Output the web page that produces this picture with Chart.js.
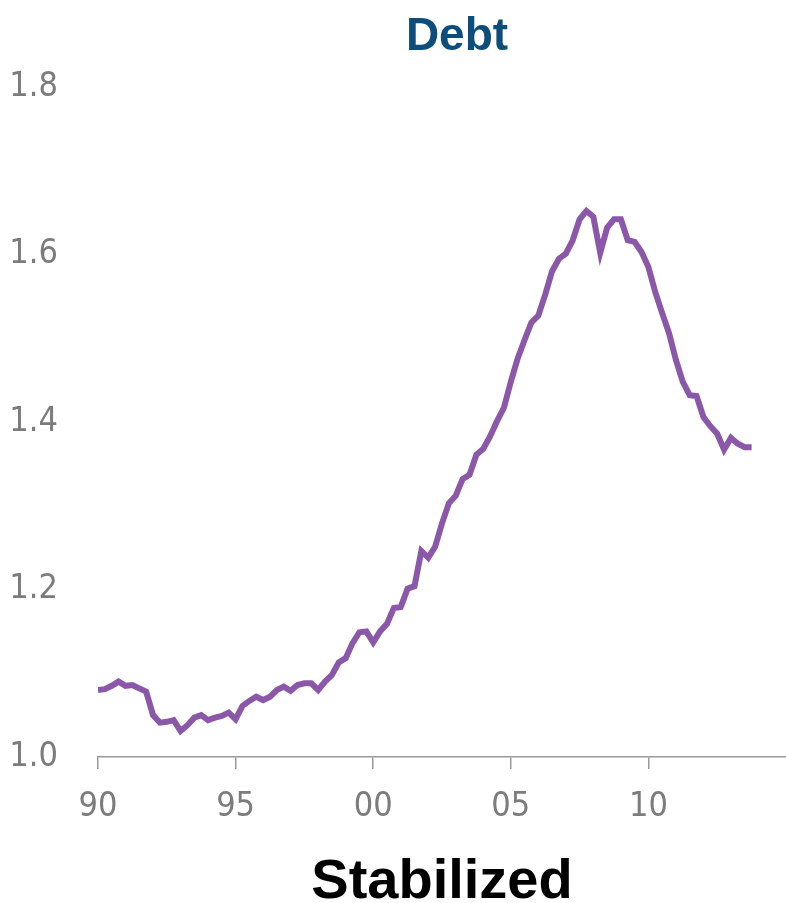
<!DOCTYPE html>
<html>
<head>
<meta charset="utf-8">
<script src="https://cdn.jsdelivr.net/npm/chart.js@4/dist/chart.umd.min.js"></script>
<style>
  html, body { margin: 0; padding: 0; background: #ffffff; }
  #wrap { width: 786px; height: 903px; position: relative; }
</style>
</head>
<body>
<div id="wrap"><canvas id="chart" width="786" height="903"></canvas></div>
<script>
// Quarterly debt ratio, 1990 Q1 – 2013 Q4
const startYear = 1990;
const debtRatio = [
  1.080, 1.081, 1.085, 1.090, 1.085, 1.086, 1.082, 1.078,
  1.050, 1.041, 1.042, 1.044, 1.031, 1.038, 1.047, 1.050,
  1.044, 1.047, 1.049, 1.053, 1.045, 1.061, 1.067, 1.072,
  1.068, 1.072, 1.080, 1.084, 1.079, 1.086, 1.088, 1.088,
  1.080, 1.090, 1.098, 1.113, 1.118, 1.136, 1.149, 1.150,
  1.137, 1.150, 1.159, 1.178, 1.179, 1.201, 1.204, 1.246,
  1.238, 1.251, 1.279, 1.303, 1.312, 1.332, 1.337, 1.361,
  1.368, 1.383, 1.401, 1.417, 1.448, 1.476, 1.498, 1.519,
  1.527, 1.552, 1.580, 1.595, 1.601, 1.617, 1.642, 1.652,
  1.645, 1.602, 1.632, 1.642, 1.642, 1.617, 1.615, 1.603,
  1.585, 1.555, 1.530, 1.506, 1.474, 1.448, 1.432, 1.431,
  1.406, 1.395, 1.386, 1.367, 1.381, 1.374, 1.370, 1.370
];
const xTickYears = [1990, 1995, 2000, 2005, 2010];
const yTickValues = [1.0, 1.2, 1.4, 1.6, 1.8];
const chartTitle = 'Debt';
const chartCaption = 'Stabilized';

const points = debtRatio.map((v, i) => ({ x: startYear + i / 4, y: v }));

const tickFont = { family: "'DejaVu Sans Condensed', 'Liberation Sans', sans-serif", size: 34, weight: 'normal' };
const axisGrey = '#9a9a9a';
const labelGrey = '#7c7c7c';

// Title above and caption below the plot
const headings = {
  id: 'headings',
  afterDraw(chart) {
    const { ctx, chartArea } = chart;
    ctx.save();
    ctx.textAlign = 'center';
    ctx.textBaseline = 'alphabetic';
    ctx.fillStyle = '#0d4d7c';
    ctx.font = "bold 46px 'Liberation Sans', Arial, sans-serif";
    ctx.fillText(chartTitle, 457, 50);
    ctx.fillStyle = '#000000';
    ctx.font = "bold 56px 'Liberation Sans', Arial, sans-serif";
    ctx.fillText(chartCaption, (chartArea.left + chartArea.right) / 2, 898);
    ctx.restore();
  }
};

new Chart(document.getElementById('chart'), {
  type: 'line',
  data: {
    datasets: [{
      data: points,
      borderColor: '#8b58a9',
      borderWidth: 6,
      pointRadius: 0,
      tension: 0,
      fill: false,
      borderJoinStyle: 'miter'
    }]
  },
  options: {
    responsive: false,
    animation: false,
    devicePixelRatio: 1,
    layout: { padding: { left: 12, right: 0, top: 87, bottom: 86 } },
    plugins: {
      legend: { display: false },
      tooltip: { enabled: false },
      title: { display: false }
    },
    scales: {
      x: {
        type: 'linear',
        min: 1990,
        max: 2015,
        afterBuildTicks(scale) {
          scale.ticks = xTickYears.map(v => ({ value: v }));
        },
        afterFit(scale) { scale.height = 60; },
        ticks: {
          color: labelGrey,
          font: tickFont,
          padding: 18,
          maxRotation: 0,
          autoSkip: false,
          callback: v => String(v % 100).padStart(2, '0')
        },
        grid: {
          display: true,
          drawOnChartArea: false,
          drawTicks: true,
          tickLength: 12,
          color: axisGrey,
          lineWidth: 1.5
        },
        border: { display: true, color: axisGrey, width: 1.5 }
      },
      y: {
        min: 1.0,
        max: 1.8,
        afterBuildTicks(scale) {
          scale.ticks = yTickValues.map(v => ({ value: v }));
        },
        afterFit(scale) { scale.width = 86; },
        ticks: {
          color: labelGrey,
          font: tickFont,
          padding: 40,
          callback: v => Number(v).toFixed(1)
        },
        grid: { display: false, drawTicks: false },
        border: { display: false }
      }
    }
  },
  plugins: [headings]
});
</script>
</body>
</html>
